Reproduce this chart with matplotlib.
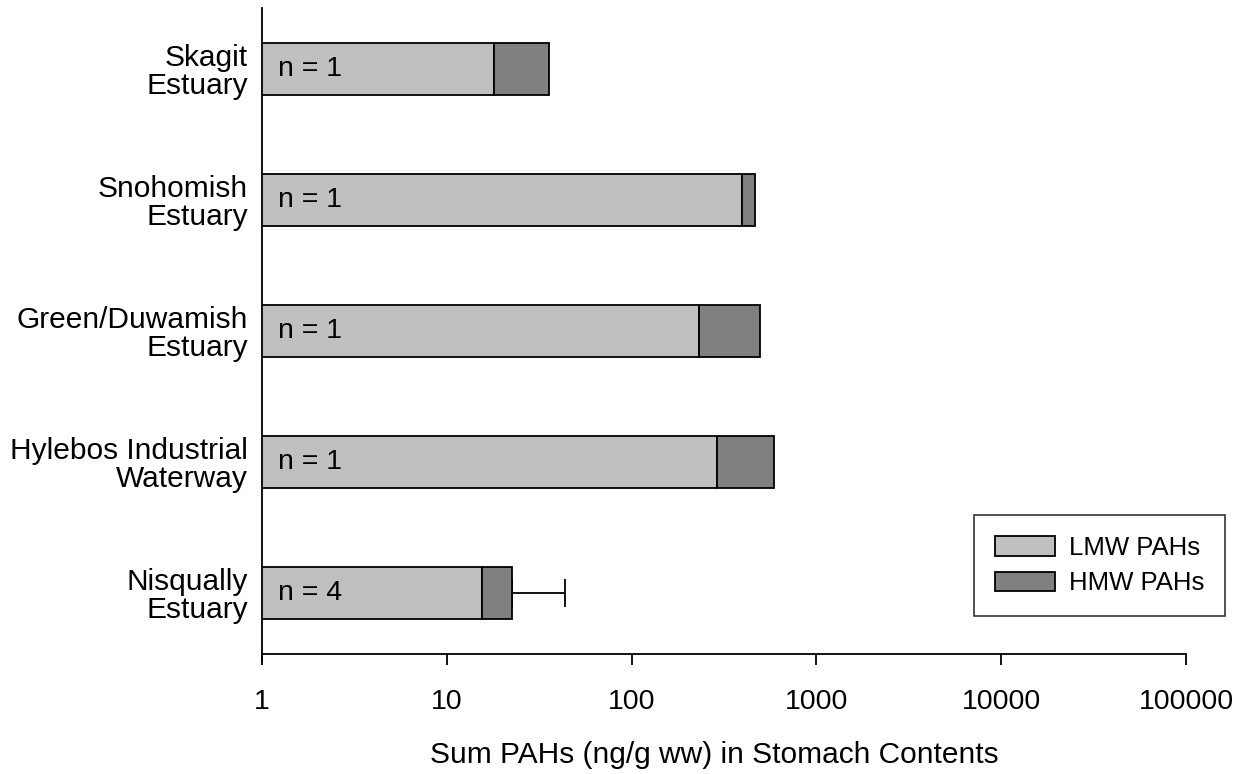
import numpy as np
import matplotlib.pyplot as plt

plt.rcParams["font.family"] = ["Liberation Sans", "DejaVu Sans"]
plt.rcParams["font.size"] = 21

# top to bottom
sites = ["Skagit\nEstuary", "Snohomish\nEstuary", "Green/Duwamish\nEstuary",
         "Hylebos Industrial\nWaterway", "Nisqually\nEstuary"]
lmw = [18.0, 396, 232, 290, 15.5]
hmw = [17.7, 69, 263, 300, 7.0]
err_plus = [0, 0, 0, 0, 21.1]
n_labels = ["n = 1", "n = 1", "n = 1", "n = 1", "n = 4"]
xticks = [1, 10, 100, 1000, 10000, 100000]
xticklabels = ["1", "10", "100", "1000", "10000", "100000"]

fig = plt.figure(figsize=(12.47, 7.74), dpi=100)
ax = fig.add_axes([0.2101, 0.155, 0.741, 0.8347])

ypos = np.arange(len(sites))[::-1]
lmw = np.array(lmw)
hmw = np.array(hmw)
bar_h = 0.40

ax.barh(ypos, lmw - 1, left=1, height=bar_h, color="#c0c0c0",
        edgecolor="black", linewidth=1.3, label="LMW PAHs", zorder=3)
ax.barh(ypos, hmw, left=lmw, height=bar_h, color="#808080",
        edgecolor="black", linewidth=1.3, label="HMW PAHs", zorder=3)

total = lmw + hmw
for y, t, e in zip(ypos, total, err_plus):
    if e > 0:
        ax.errorbar(t, y, xerr=[[0], [e]], fmt="none", ecolor="black",
                    elinewidth=1.3, capsize=10, capthick=1.3, zorder=2)

for y, lab in zip(ypos, n_labels):
    ax.text(1.22, y, lab, va="center", ha="left", fontsize=20.5, zorder=4)

ax.set_xscale("log")
ax.set_xlim(1, 100000)
ax.set_ylim(-0.465, 4.465)
ax.set_xticks(xticks)
ax.set_xticklabels(xticklabels, fontsize=20.5)
ax.xaxis.set_minor_locator(plt.NullLocator())
ax.set_yticks(ypos)
ax.set_yticklabels(sites, ha="right", linespacing=1.0, fontsize=21.5)
ax.tick_params(axis="y", length=0, pad=10)
ax.tick_params(axis="x", length=8, width=1.3, direction="out", pad=17)

for side in ["top", "right"]:
    ax.spines[side].set_visible(False)
ax.spines["left"].set_linewidth(1.3)
ax.spines["bottom"].set_linewidth(1.3)
ax.spines["left"].set_bounds(-0.52, 4.465)

ax.set_xlabel("Sum PAHs (ng/g ww) in Stomach Contents", fontsize=21.5)
ax.xaxis.set_label_coords(0.49, -0.135)

leg = ax.legend(loc="lower right", bbox_to_anchor=(1.042, 0.0588),
                borderaxespad=0, frameon=True, fancybox=False,
                edgecolor="black", fontsize=18.5,
                handlelength=2.33, handleheight=0.78, borderpad=0.8,
                labelspacing=0.45, handletextpad=0.55)
leg.get_frame().set_linewidth(1.2)

fig.savefig("out.png", dpi=100)
